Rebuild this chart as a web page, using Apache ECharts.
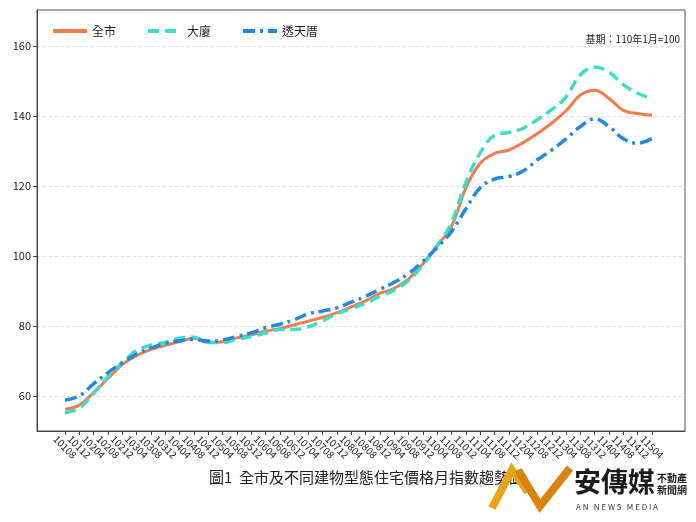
<!DOCTYPE html>
<html>
<head>
<meta charset="utf-8">
<script src="https://cdn.jsdelivr.net/npm/echarts@6/dist/echarts.min.js"></script>
<style>
html, body { margin: 0; padding: 0; background: #fff; }
#main { width: 696px; height: 522px; }
</style>
</head>
<body>
<div id="main"></div>
<script>
// month labels (ROC year + month), every 4 months
var months = ['10108','10112','10204','10208','10212','10304','10308','10312','10404','10408',
  '10412','10504','10508','10512','10604','10608','10612','10704','10708','10712',
  '10804','10808','10812','10904','10908','10912','11004','11008','11012','11104',
  '11108','11112','11204','11208','11212','11304','11308','11312','11404','11408',
  '11412','11504'];

// 全市
var cityAll = [56.2,57.4,61.0,65.0,69.0,71.5,73.3,74.5,75.5,76.5,
  75.3,75.5,76.6,77.5,78.5,79.3,80.3,81.4,82.5,83.8,
  85.5,87.2,89.3,90.8,93.5,97.8,103.0,108.5,119.5,126.5,
  129.3,130.3,132.4,135.0,138.0,141.5,146.0,147.4,145.0,141.6,
  140.7,140.2];
// 大廈
var building = [55.2,56.6,60.8,65.5,69.5,73.0,74.5,75.3,76.5,76.8,
  75.3,75.3,76.2,77.0,78.0,79.0,79.0,79.8,81.5,83.5,
  85.0,86.5,88.5,90.3,93.0,97.5,103.0,109.5,121.0,129.5,
  134.5,135.3,136.5,139.0,141.8,145.5,151.8,154.0,152.5,149.0,
  146.5,145.0];
// 透天厝
var townhouse = [58.8,60.0,63.5,66.7,69.5,72.0,73.7,75.0,75.8,76.2,
  75.7,76.0,77.0,78.0,79.5,80.5,81.8,83.5,84.3,85.2,
  86.8,88.5,90.5,92.5,95.0,98.5,102.5,107.0,113.5,119.5,
  122.0,122.7,124.3,127.5,130.3,133.5,137.0,139.2,137.0,133.5,
  132.2,133.6];

var yTicks = [60, 80, 100, 120, 140, 160];

var xIdx = months.map(function (m, i) { return i; });
function pairs(arr) {
  return arr.map(function (v, i) { return [i, v]; });
}

var font = '"Noto Sans CJK TC", "Noto Sans", sans-serif';

var myChart = echarts.init(document.getElementById('main'));
var option = {
  backgroundColor: '#fff',
  animation: false,
  textStyle: { fontFamily: font },
  grid: {
    left: 37, right: 11, top: 10, bottom: 91,
    show: true, borderColor: '#555', borderWidth: 1
  },
  legend: {
    left: 46, top: 20,
    itemWidth: 34, itemHeight: 10, itemGap: 30,
    itemStyle: { opacity: 0 },
    lineStyle: { width: 4 },
    textStyle: { fontSize: 12, color: '#222', fontFamily: font },
    data: ['全市', '大廈', '透天厝']
  },
  graphic: [
    {
      type: 'text', right: 16, top: 34,
      style: { text: '基期：110年1月=100', fontSize: 10, fill: '#222', fontFamily: font }
    },
    {
      type: 'text', left: 209, top: 470,
      style: { text: '圖1  全市及不同建物型態住宅價格月指數趨勢圖', fontSize: 15, fill: '#222', fontFamily: font }
    },
    // logo
    {
      type: 'polyline', z: 10,
      shape: { points: [[492, 508], [512, 470], [528, 492]] },
      style: { stroke: '#e8a417', lineWidth: 8, fill: null, lineJoin: 'miter' }
    },
    {
      type: 'polyline', z: 10,
      shape: { points: [[518, 470], [540, 506], [570, 468]] },
      style: { stroke: '#d9820f', lineWidth: 8, fill: null, lineJoin: 'miter' }
    },
    {
      type: 'text', left: 574, top: 468, z: 10,
      style: { text: '安傳媒', fontSize: 27, fontWeight: 'bold', fill: '#1c1c1c', fontFamily: font }
    },
    {
      type: 'text', left: 657, top: 472, z: 10,
      style: { text: '不動產\n新聞網', fontSize: 10, lineHeight: 12, fontWeight: 'bold', fill: '#1c1c1c', fontFamily: font }
    },
    {
      type: 'text', left: 576, top: 503, z: 10,
      style: { text: 'A N   N E W S   M E D I A', fontSize: 8, fill: '#333', fontFamily: font }
    }
  ],
  xAxis: {
    type: 'value',
    min: -1.956, max: 43.305,
    axisLine: { onZero: false, lineStyle: { color: '#444' } },
    axisTick: { show: true, length: 4, customValues: xIdx, lineStyle: { color: '#444' } },
    axisLabel: {
      customValues: xIdx,
      rotate: -45, fontSize: 10, color: '#222', margin: 16,
      align: 'center', verticalAlign: 'middle',
      formatter: function (v) { return months[Math.round(v)]; }
    },
    splitLine: { show: false }
  },
  yAxis: {
    type: 'value',
    min: 50, max: 170.3,
    axisLine: { show: true, onZero: false, lineStyle: { color: '#444' } },
    axisTick: { show: true, length: 4, customValues: yTicks, lineStyle: { color: '#444' } },
    axisLabel: { customValues: yTicks, fontSize: 11, color: '#222', margin: 6 },
    splitLine: { show: true, lineStyle: { color: '#ddd', type: [3, 3], width: 1 } }
  },
  series: [
    {
      name: '全市', type: 'line', smooth: 0.4, symbol: 'none',
      data: pairs(cityAll),
      lineStyle: { color: '#f07d4e', width: 3 },
      itemStyle: { color: '#f07d4e' }
    },
    {
      name: '大廈', type: 'line', smooth: 0.4, symbol: 'none',
      data: pairs(building),
      lineStyle: { color: '#3fdcc8', width: 3.5, type: [11, 6] },
      itemStyle: { color: '#3fdcc8' }
    },
    {
      name: '透天厝', type: 'line', smooth: 0.4, symbol: 'none',
      data: pairs(townhouse),
      lineStyle: { color: '#2389e0', width: 3.5, type: [12, 5, 3, 5] },
      itemStyle: { color: '#2389e0' }
    }
  ]
};
myChart.setOption(option);
</script>
</body>
</html>
